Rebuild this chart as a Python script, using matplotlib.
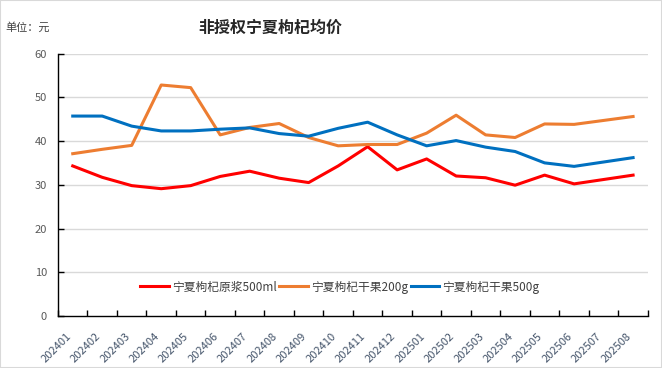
import matplotlib

matplotlib.use("Agg")
import matplotlib.pyplot as plt
import numpy as np
from matplotlib.patches import Rectangle

plt.rcParams["font.family"] = ["Noto Sans CJK SC", "DejaVu Sans"]

months = [
    "202401", "202402", "202403", "202404", "202405", "202406", "202407",
    "202408", "202409", "202410", "202411", "202412", "202501", "202502",
    "202503", "202504", "202505", "202506", "202507", "202508",
]
juice_500ml = [34.3, 31.7, 29.8, 29.1, 29.8, 31.9, 33.1, 31.5, 30.5, 34.3,
               38.7, 33.4, 35.9, 32.0, 31.6, 29.9, 32.2, 30.2, 31.2, 32.2]
dried_200g = [37.1, 38.1, 39.0, 52.8, 52.2, 41.4, 43.1, 44.0, 40.8, 38.9,
              39.2, 39.2, 41.8, 45.9, 41.4, 40.8, 43.9, 43.8, 44.7, 45.6]
dried_500g = [45.7, 45.7, 43.4, 42.3, 42.3, 42.7, 43.0, 41.7, 41.1, 42.9,
              44.3, 41.4, 38.9, 40.1, 38.6, 37.6, 35.0, 34.2, 35.2, 36.2]
series_names = ["宁夏枸杞原浆500ml", "宁夏枸杞干果200g", "宁夏枸杞干果500g"]
yticks = [0, 10, 20, 30, 40, 50, 60]

fig = plt.figure(figsize=(6.62, 3.68), dpi=100)
ax = fig.add_axes([0.0876, 0.1413, 0.891, 0.7133])

x = np.arange(len(months))
ax.plot(x, juice_500ml, color="#FF0000", lw=2.2, label=series_names[0], solid_joinstyle="round")
ax.plot(x, dried_200g, color="#ED7D31", lw=2.2, label=series_names[1], solid_joinstyle="round")
ax.plot(x, dried_500g, color="#0070C0", lw=2.2, label=series_names[2], solid_joinstyle="round")

ax.set_xlim(-0.5, len(months) - 0.5)
ax.set_ylim(0, 60)
ax.set_yticks(yticks)
ax.set_xticks(x)
ax.set_xticklabels(months, rotation=45, ha="right", va="top", fontsize=8, color="#44546A")
ax.set_xticks(np.arange(-0.5, len(months)), minor=True)
ax.tick_params(axis="x", which="major", length=0, pad=11)
ax.tick_params(axis="x", which="minor", direction="in", length=4, width=1, color="black")
ax.tick_params(axis="y", direction="in", length=4, width=1, color="black",
               labelsize=8, labelcolor="#595959", pad=8)

for v in yticks[1:]:
    ax.axhline(v, color="#D9D9D9", lw=1, zorder=0)

for s in ["top", "right"]:
    ax.spines[s].set_visible(False)
for s in ["left", "bottom"]:
    ax.spines[s].set_color("black")
    ax.spines[s].set_linewidth(1)

ax.legend(loc="center", bbox_to_anchor=(0.478, 0.11), ncol=3, frameon=False,
          fontsize=8.5, handlelength=2.4, handletextpad=0.3, columnspacing=0.2,
          labelcolor="#404040")

fig.text(0.408, 0.925, "非授权宁夏枸杞均价", ha="center", va="center",
         fontsize=11.5, fontweight="bold", color="#262626")
fig.text(0.008, 0.925, "单位：元", ha="left", va="center", fontsize=8, color="#404040")

fig.patches.append(Rectangle((0, 0), 1, 1, transform=fig.transFigure, fill=False,
                             edgecolor="#D9D9D9", lw=1.5))

fig.savefig("out.png", dpi=100)
